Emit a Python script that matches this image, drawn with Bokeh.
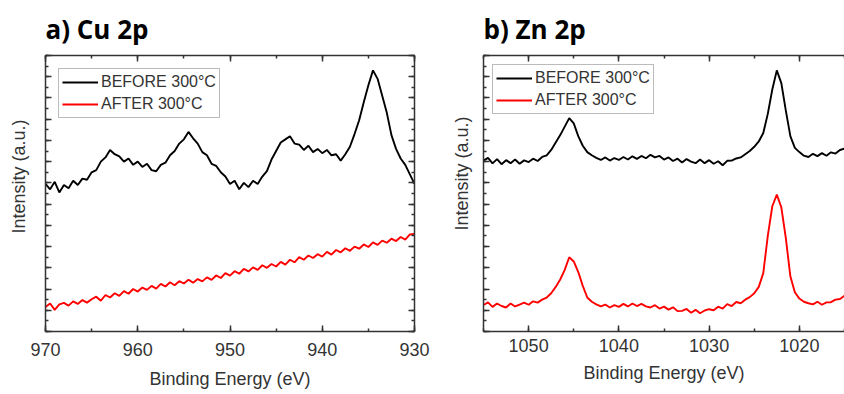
from bokeh.plotting import figure
from bokeh.models import (Range1d, SingleIntervalTicker, LinearAxis,
                          CustomJSTickFormatter, Title)
from bokeh.layouts import row
from bokeh.embed import file_html
from bokeh.resources import INLINE

# ---------------- data ----------------
be_cu = [970.0, 969.5, 969.0, 968.5, 968.0, 967.5, 967.0, 966.5, 966.0, 965.5,
         965.0, 964.5, 964.0, 963.5, 963.0, 962.5, 962.0, 961.5, 961.0, 960.5,
         960.0, 959.5, 959.0, 958.5, 958.0, 957.5, 957.0, 956.5, 956.0, 955.5,
         955.0, 954.5, 954.0, 953.5, 953.0, 952.5, 952.0, 951.5, 951.0, 950.5,
         950.0, 949.5, 949.0, 948.5, 948.0, 947.5, 947.0, 946.5, 946.0, 945.5,
         945.0, 944.5, 944.0, 943.5, 943.0, 942.5, 942.0, 941.5, 941.0, 940.5,
         940.0, 939.5, 939.0, 938.5, 938.0, 937.5, 937.0, 936.5, 936.0, 935.5,
         935.0, 934.5, 934.0, 933.5, 933.0, 932.5, 932.0, 931.5, 931.0, 930.5,
         930.0]
cu_before = [6.95, 6.70, 7.05, 6.55, 6.90, 6.75, 7.10, 6.90, 7.20, 7.15,
             7.50, 7.60, 8.00, 8.20, 8.55, 8.35, 8.25, 8.00, 8.15, 7.85,
             8.00, 7.75, 7.90, 7.60, 7.55, 7.85, 7.95, 8.30, 8.50, 8.85,
             9.05, 9.40, 9.10, 8.85, 8.45, 8.30, 7.90, 7.80, 7.50, 7.30,
             6.95, 7.10, 6.70, 7.00, 6.80, 7.10, 6.95, 7.30, 7.55, 8.10,
             8.50, 8.90, 9.05, 9.20, 8.85, 8.80, 8.55, 8.75, 8.45, 8.60,
             8.40, 8.55, 8.30, 8.35, 8.05, 8.35, 8.70, 9.30, 9.95, 10.80,
             11.60, 12.30, 11.90, 11.10, 10.30, 9.25, 8.60, 8.15, 7.85, 7.40,
             6.95]
cu_after = [1.15, 1.32, 1.02, 1.28, 1.35, 1.22, 1.42, 1.30, 1.48, 1.36,
            1.52, 1.64, 1.45, 1.72, 1.60, 1.80, 1.68, 1.90, 1.78, 2.00,
            1.88, 2.07, 1.96, 2.15, 2.02, 2.24, 2.12, 2.32, 2.18, 2.37,
            2.26, 2.44, 2.30, 2.47, 2.36, 2.55, 2.43, 2.64, 2.52, 2.75,
            2.63, 2.84, 2.72, 2.95, 2.83, 3.02, 2.90, 3.12, 3.00, 3.18,
            3.06, 3.28, 3.15, 3.38, 3.26, 3.50, 3.38, 3.58, 3.46, 3.64,
            3.53, 3.75, 3.62, 3.84, 3.73, 3.92, 3.80, 4.00, 3.90, 4.10,
            3.98, 4.20, 4.08, 4.28, 4.18, 4.37, 4.26, 4.45, 4.33, 4.57,
            4.60]

be_zn = [1055.0, 1054.5, 1054.0, 1053.5, 1053.0, 1052.5, 1052.0, 1051.5, 1051.0, 1050.5,
         1050.0, 1049.5, 1049.0, 1048.5, 1048.0, 1047.5, 1047.0, 1046.5, 1046.0, 1045.5,
         1045.0, 1044.5, 1044.0, 1043.5, 1043.0, 1042.5, 1042.0, 1041.5, 1041.0, 1040.5,
         1040.0, 1039.5, 1039.0, 1038.5, 1038.0, 1037.5, 1037.0, 1036.5, 1036.0, 1035.5,
         1035.0, 1034.5, 1034.0, 1033.5, 1033.0, 1032.5, 1032.0, 1031.5, 1031.0, 1030.5,
         1030.0, 1029.5, 1029.0, 1028.5, 1028.0, 1027.5, 1027.0, 1026.5, 1026.0, 1025.5,
         1025.0, 1024.5, 1024.0, 1023.5, 1023.0, 1022.5, 1022.0, 1021.5, 1021.0, 1020.5,
         1020.0, 1019.5, 1019.0, 1018.5, 1018.0, 1017.5, 1017.0, 1016.5, 1016.0, 1015.5,
         1015.0]
zn_before = [8.05, 8.18, 7.92, 8.12, 7.88, 8.07, 7.93, 8.10, 7.90, 8.06,
             7.98, 8.14, 8.03, 8.22, 8.30, 8.55, 8.90, 9.25, 9.65, 10.05,
             9.80, 9.20, 8.75, 8.45, 8.30, 8.18, 8.08, 8.20, 8.05, 8.17,
             8.08, 8.22, 8.10, 8.25, 8.13, 8.27, 8.16, 8.32, 8.20, 8.27,
             8.10, 8.20, 8.03, 8.14, 7.96, 8.12, 8.00, 7.93, 8.10, 7.93,
             8.07, 7.90, 8.02, 7.83, 8.04, 8.05, 8.15, 8.20, 8.35, 8.50,
             8.70, 8.95, 9.35, 10.25, 11.40, 12.30, 11.70, 10.40, 9.20, 8.65,
             8.45, 8.28, 8.22, 8.37, 8.26, 8.40, 8.28, 8.44, 8.38, 8.55,
             8.62]
zn_after = [1.25, 1.37, 1.16, 1.32, 1.20, 1.13, 1.32, 1.18, 1.27, 1.36,
            1.26, 1.42, 1.36, 1.50, 1.60, 1.80, 2.10, 2.45, 2.90, 3.50,
            3.30, 2.80, 2.15, 1.60, 1.40, 1.28, 1.18, 1.27, 1.13, 1.24,
            1.16, 1.30, 1.18, 1.32, 1.20, 1.30, 1.18, 1.13, 1.24, 1.08,
            1.17, 1.03, 1.14, 0.96, 0.97, 1.06, 0.88, 1.02, 0.86, 0.99,
            1.05, 1.00, 1.17, 1.08, 1.29, 1.20, 1.39, 1.33, 1.50, 1.62,
            1.80, 2.10, 2.75, 4.50, 5.90, 6.45, 5.85, 4.40, 2.60, 1.85,
            1.55, 1.40, 1.33, 1.28, 1.40, 1.26, 1.37, 1.38, 1.50, 1.53,
            1.68]

series_labels = ["BEFORE 300°C", "AFTER 300°C"]
series_colors = ["#000000", "#ff0000"]
titles = ["a) Cu 2p", "b) Zn 2p"]
x_label = "Binding Energy (eV)"
y_label = "Intensity (a.u.)"

AX = "#333333"
FONT = "Liberation Sans"


def style_axis(ax, label_code=None, standoff=0):
    ax.axis_line_color = AX
    ax.axis_line_width = 1.5
    ax.major_tick_line_color = AX
    ax.major_tick_line_width = 1.5
    ax.minor_tick_line_color = AX
    ax.minor_tick_line_width = 1.5
    ax.major_tick_in = 6
    ax.major_tick_out = 0
    ax.minor_tick_in = 3
    ax.minor_tick_out = 0
    ax.major_label_text_font = FONT
    ax.major_label_text_font_size = "18px"
    ax.major_label_text_color = AX
    ax.major_label_standoff = standoff
    if label_code is not None:
        ax.formatter = CustomJSTickFormatter(code=label_code)


def make_panel(be, before, after, xr, title, width, borders, ylab_gap, ylab_offset,
               legend_margin, xstand, xlabstand, right_axis):
    p = figure(width=width, height=394, output_backend="svg", toolbar_location=None,
               x_range=Range1d(*xr), y_range=Range1d(0, 13),
               x_axis_location=None, y_axis_location=None)
    p.min_border_left, p.min_border_right, p.min_border_top, p.min_border_bottom = borders
    p.outline_line_color = None
    p.xgrid.visible = False
    p.ygrid.visible = False
    p.background_fill_color = "white"
    p.border_fill_color = "white"

    xt = SingleIntervalTicker(interval=10, num_minor_ticks=2)
    yt = SingleIntervalTicker(interval=1, num_minor_ticks=2)

    bottom = LinearAxis(ticker=xt)
    style_axis(bottom, None, xstand)
    bottom.axis_label = x_label
    bottom.axis_label_text_font = FONT
    bottom.axis_label_text_font_size = "18px"
    bottom.axis_label_text_font_style = "normal"
    bottom.axis_label_text_color = AX
    bottom.axis_label_standoff = xlabstand
    p.add_layout(bottom, "below")

    top = LinearAxis(ticker=xt)
    style_axis(top, "return ''")
    p.add_layout(top, "above")

    # blank (space) tick labels only reserve the gap before the y label
    left = LinearAxis(ticker=yt)
    style_axis(left, "return ' '", ylab_gap)
    p.add_layout(left, "left")

    if right_axis:
        right = LinearAxis(ticker=yt)
        style_axis(right, "return ''")
        p.add_layout(right, "right")

    p.line(be, before, line_color=series_colors[0], line_width=1.9,
           legend_label=series_labels[0])
    p.line(be, after, line_color=series_colors[1], line_width=1.9,
           legend_label=series_labels[1])

    lg = p.legend[0]
    lg.location = "top_left"
    lg.margin = legend_margin
    lg.padding = 3
    lg.spacing = 2
    lg.glyph_width = 36
    lg.glyph_height = 20
    lg.label_height = 20
    lg.label_standoff = 3
    lg.label_text_font = FONT
    lg.label_text_font_size = "16px"
    lg.label_text_color = AX
    lg.border_line_color = "#777777"
    lg.border_line_width = 1.5
    lg.background_fill_color = "white"
    lg.background_fill_alpha = 1.0

    p.title.text = title
    p.title.text_font = "Open Sans"
    p.title.text_font_style = "bold"
    p.title.text_font_size = "26px"
    p.title.text_color = "#000000"
    p.title.align = "left"
    p.title.standoff = 17

    ylab = Title(text=y_label, align="right", offset=ylab_offset,
                 vertical_align="bottom", standoff=0,
                 text_font=FONT, text_font_size="18px",
                 text_font_style="normal", text_color=AX)
    p.add_layout(ylab, "left")
    return p


p1 = make_panel(be_cu, cu_before, cu_after, (970, 930), titles[0], 430,
                (45, 16, 47, 63), 9, 64, 13, 11, 10, True)
p2 = make_panel(be_zn, zn_before, zn_after, (1055, 1015), titles[1], 414,
                (53, 0, 52, 57), 4, 61, 9, 7, 8, False)

layout = row(p1, p2, spacing=0)
open("out.html", "w").write(file_html(layout, INLINE))
